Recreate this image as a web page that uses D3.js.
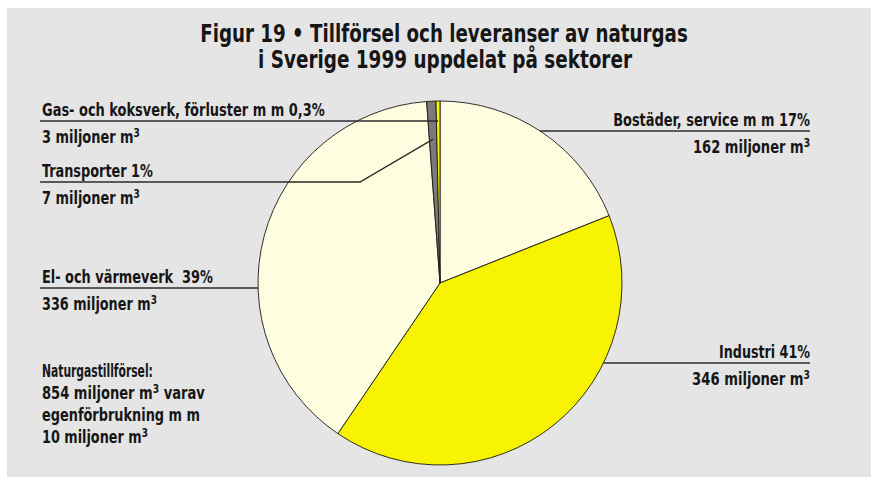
<!DOCTYPE html>
<html>
<head>
<meta charset="utf-8">
<script src="https://cdn.jsdelivr.net/npm/d3@7"></script>
<style>
body { margin: 0; background: #fff; }
text {
    font-family: "Liberation Sans Narrow", "DejaVu Sans Condensed", "Roboto Condensed", sans-serif;
    font-weight: bold;
    fill: #161616;
}
</style>
</head>
<body>
<script>
// data
let sectors = ["Bostäder, service m m", "Industri", "El- och värmeverk ", "Transporter", "Gas- och koksverk, förluster m m"]
let volumes = [162, 346, 336, 7, 3]
let shares = ["17%", "41%", "39%", "1%", "0,3%"]
let titleLines = ["Figur 19 • Tillförsel och leveranser av naturgas", "i Sverige 1999 uppdelat på sektorer"]
let noteLines = ["Naturgastillförsel:", "854 miljoner m³ varav", "egenförbrukning m m", "10 miljoner m³"]

let width = 871
let height = 477
let cx = 440
let cy = 283
let radius = 182
let sliceColors = ["#fffde0", "#f8f300", "#fffde0", "#7a7a7a", "#f8f300"]

// label layout: side, line y, text x, fitted widths, inner leader radius (null = stop at edge)
let labelLayout = [
    {side: "right", lineY: 131, x: 810, w1: 197, w2: 117, inner: null},
    {side: "right", lineY: 363, x: 810, w1: 91, w2: 118, inner: null},
    {side: "left", lineY: 288, x: 42, w1: 171, w2: 115, inner: null},
    {side: "left", lineY: 182, x: 42, w1: 111, w2: 98, inner: 144, elbow: 360},
    {side: "left", lineY: 121, x: 42, w1: 283, w2: 98, inner: 162}
]

let svg = d3.select("body").append("svg")
    .attr("width", width)
    .attr("height", height)

svg.append("rect")
    .attr("x", 7).attr("y", 8)
    .attr("width", width - 7).attr("height", height - 8)
    .attr("fill", "#e5e5e5")

// writes a string, turning "³" into a raised small 3
function writeText(sel, str) {
    let parts = str.split("³")
    parts.forEach((p, k) => {
        if (k > 0) {
            sel.append("tspan").attr("dy", -6).attr("font-size", "70%").text("3")
            sel.append("tspan").attr("dy", 6).text(p)
        } else {
            sel.append("tspan").text(p)
        }
    })
}

// squeeze text to the width it has in the figure
function fitText(x, y, str, target, anchor, size) {
    let t = svg.append("text")
        .attr("text-anchor", anchor)
        .attr("font-size", size)
        .style("white-space", "pre")
    writeText(t, str)
    let w = t.node().getComputedTextLength()
    let s = target ? target / w : 1
    t.attr("transform", `translate(${x},${y}) scale(${s},1)`)
    return t
}

fitText(444, 42, titleLines[0], 488, "middle", 25)
fitText(445, 68, titleLines[1], 374, "middle", 25)

let pie = d3.pie().sort(null).value(d => d)
let arcs = pie(volumes)
let arc = d3.arc().innerRadius(0).outerRadius(radius)

let g = svg.append("g").attr("transform", `translate(${cx},${cy})`)

g.selectAll("path")
    .data(arcs)
    .enter()
    .append("path")
    .attr("d", arc)
    .attr("fill", (d, i) => sliceColors[i])
    .attr("stroke", "#1a1a1a")
    .attr("stroke-width", 0.9)

// leader lines
arcs.forEach((d, i) => {
    let L = labelLayout[i]
    let pts
    if (L.inner === null) {
        let dy = L.lineY - cy
        let dx = Math.sqrt(radius * radius - dy * dy)
        let edgeX = L.side === "right" ? cx + dx : cx - dx
        pts = L.side === "right" ? [[edgeX, L.lineY], [L.x, L.lineY]] : [[L.x - 2, L.lineY], [edgeX, L.lineY]]
    } else {
        let a = (d.startAngle + d.endAngle) / 2
        let px = cx + L.inner * Math.sin(a)
        let py = cy - L.inner * Math.cos(a)
        if (L.elbow)
            pts = [[L.x - 2, L.lineY], [L.elbow, L.lineY], [px, py]]
        else
            pts = [[L.x - 2, L.lineY], [px, L.lineY]]
    }
    svg.append("path")
        .attr("d", d3.line()(pts))
        .attr("fill", "none")
        .attr("stroke", "#2b2b2b")
        .attr("stroke-width", 1.4)

    let anchor = L.side === "right" ? "end" : "start"
    fitText(L.x, L.lineY - 5, sectors[i] + " " + shares[i], L.w1, anchor, 17.5)
    fitText(L.x, L.lineY + 22, volumes[i] + " miljoner m³", L.w2, anchor, 17.5)
})

let noteWidths = [111, 163, 158, 106]
noteLines.forEach((s, k) => {
    fitText(42, 377 + k * 22, s, noteWidths[k], "start", 17.5)
})
</script>
</body>
</html>
